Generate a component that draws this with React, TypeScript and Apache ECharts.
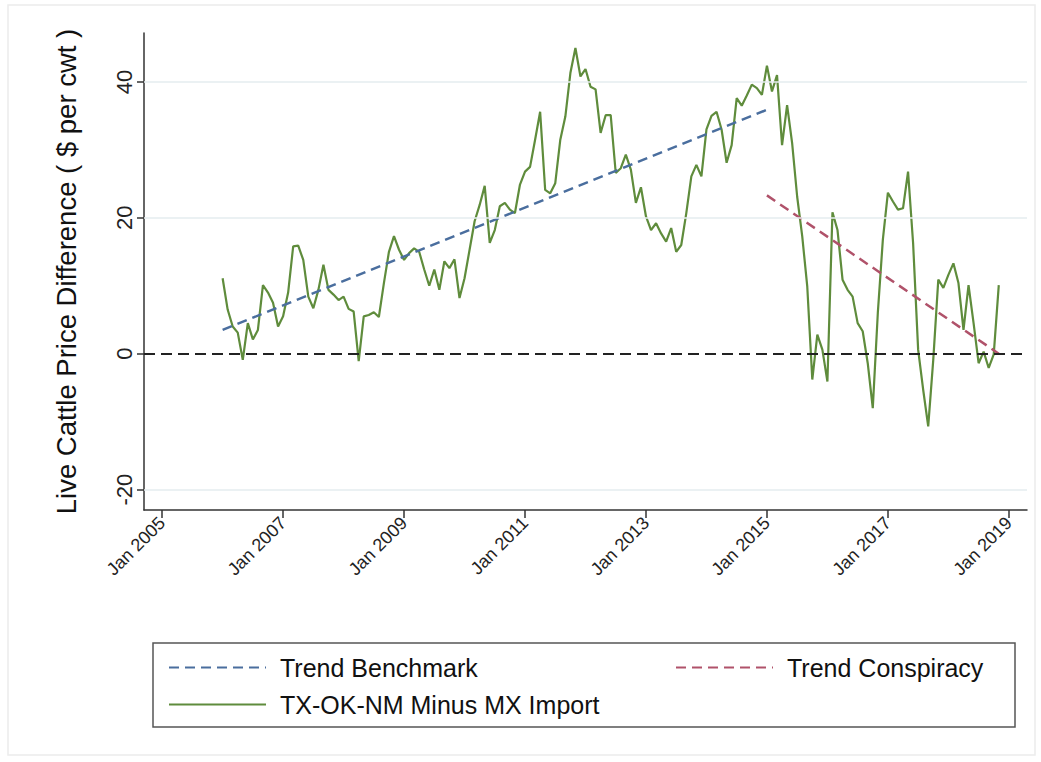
import React, { useEffect, useRef } from "react";
import * as echarts from "echarts";

// ---- data ----
const seriesStart = { year: 2006, month: 1 }; // first monthly observation
const spreadValues = [
  11.1, 6.5, 4.0, 3.1, -0.9, 4.5, 2.1, 3.5, 10.1, 9.0,
  7.5, 4.0, 5.5, 9.0, 15.8, 15.9, 13.8, 8.4, 6.7, 9.4,
  13.1, 9.4, 8.7, 7.9, 8.4, 6.6, 6.2, -1.1, 5.5, 5.7,
  6.1, 5.4, 10.4, 15.0, 17.3, 15.3, 13.8, 14.8, 15.5, 15.0,
  12.4, 10.0, 12.4, 9.4, 13.6, 12.6, 13.9, 8.2, 11.1, 15.3,
  19.5, 21.9, 24.7, 16.3, 18.2, 21.7, 22.2, 21.2, 20.7, 24.9,
  26.8, 27.5, 31.5, 35.6, 24.1, 23.6, 25.1, 31.5, 34.9, 41.3,
  45.0, 40.8, 41.9, 39.3, 38.9, 32.5, 35.1, 35.1, 26.6, 27.3,
  29.3, 27.1, 22.2, 24.5, 20.2, 18.2, 19.2, 17.7, 16.5, 18.5,
  15.0, 16.0, 20.7, 26.1, 27.8, 26.1, 33.0, 35.0, 35.6, 33.0,
  28.1, 30.7, 37.6, 36.5, 38.0, 39.6, 39.1, 38.1, 42.4, 38.6,
  41.0, 30.7, 36.6, 31.0, 23.1, 17.3, 9.9, -3.8, 2.8, 0.6,
  -4.1, 20.8, 18.2, 10.9, 9.4, 8.4, 4.5, 3.3, -1.4, -8.0,
  6.0, 16.8, 23.7, 22.4, 21.2, 21.4, 26.8, 16.3, 0.6, -5.3,
  -10.7, -0.9, 10.9, 9.7, 11.6, 13.3, 10.4, 3.5, 10.1, 4.5,
  -1.4, 0.3, -2.1, -0.1, 10.1,
];
const benchmarkDates = ["2006-01", "2015-01"];
const benchmarkValues = [3.5, 35.9];
const conspiracyDates = ["2015-01", "2018-11"];
const conspiracyValues = [23.3, 0.0];
const xTickYears = [2005, 2007, 2009, 2011, 2013, 2015, 2017, 2019];
const yTickValues = [-20, 0, 20, 40];
const gridValues = [-20, 20, 40];
const zeroLineValue = 0;

const BASE_YEAR = 2005;
const monthPos = (year: number, month: number) => (year - BASE_YEAR) * 12 + (month - 1);
const datePos = (s: string) => {
  const [y, m] = s.split("-").map(Number);
  return monthPos(y, m);
};

const FONT = "'Liberation Sans', Arial, Helvetica, sans-serif";

export default function App() {
  const ref = useRef<HTMLDivElement>(null);
  useEffect(() => {
    if (!ref.current) return;
    const chart = echarts.init(ref.current, null, { renderer: "svg" });
    const start = monthPos(seriesStart.year, seriesStart.month);
    const spreadData = spreadValues.map((v, i) => [start + i, v]);
    const benchData = benchmarkDates.map((d, i) => [datePos(d), benchmarkValues[i]]);
    const conspData = conspiracyDates.map((d, i) => [datePos(d), conspiracyValues[i]]);
    const xTicks = xTickYears.map((y) => monthPos(y, 1));

    const legendCommon = {
      itemWidth: 97,
      itemHeight: 12,
      itemStyle: { opacity: 0 },
      textStyle: { fontFamily: FONT, fontSize: 25, color: "#111", padding: [0, 0, 0, 9] },
      selectedMode: false,
    };

    chart.setOption({
      animation: false,
      backgroundColor: "#ffffff",
      textStyle: { fontFamily: FONT },
      grid: { left: 144, right: 14, top: 33, bottom: 252, containLabel: false },
      xAxis: {
        type: "value",
        min: -3.6,
        max: 171.6,
        axisLine: { show: true, onZero: false, lineStyle: { color: "#333", width: 1.5 } },
        axisTick: { show: true, customValues: xTicks, length: 8, lineStyle: { color: "#333", width: 1.5 } },
        axisLabel: {
          customValues: xTicks,
          rotate: 45,
          margin: 10,
          fontSize: 18,
          color: "#222",
          fontFamily: FONT,
          formatter: (v: number) => "Jan " + (BASE_YEAR + Math.round(v / 12)),
        },
        splitLine: { show: false },
      },
      yAxis: {
        type: "value",
        min: -23,
        max: 47.2,
        name: "Live Cattle Price Difference ( $ per cwt )",
        nameLocation: "middle",
        nameGap: 64,
        nameTextStyle: { fontSize: 27.5, color: "#111", fontFamily: FONT },
        axisLine: { show: true, onZero: false, lineStyle: { color: "#333", width: 1.5 } },
        axisTick: { show: true, customValues: yTickValues, length: 7, lineStyle: { color: "#333", width: 1.5 } },
        axisLabel: {
          customValues: yTickValues,
          rotate: 90,
          margin: 9,
          fontSize: 22,
          color: "#222",
          fontFamily: FONT,
        },
        splitLine: { show: false },
      },
      legend: [
        { ...legendCommon, data: ["Trend Benchmark"], left: 163, top: 650, orient: "horizontal" },
        { ...legendCommon, data: ["Trend Conspiracy"], left: 670, top: 650, orient: "horizontal" },
        { ...legendCommon, data: ["TX-OK-NM Minus MX Import"], left: 163, top: 687, orient: "horizontal" },
      ],
      graphic: [
        {
          type: "rect",
          shape: { x: 8, y: 5, width: 1027, height: 750 },
          style: { fill: "none", stroke: "#ececec", lineWidth: 1.5 },
          silent: true,
        },
        {
          type: "rect",
          shape: { x: 153, y: 643, width: 862, height: 84 },
          style: { fill: "none", stroke: "#555", lineWidth: 1.5 },
          silent: true,
        },
      ],
      series: [
        {
          name: "grid",
          type: "line",
          data: [],
          z: 1,
          silent: true,
          markLine: {
            silent: true,
            symbol: "none",
            label: { show: false },
            lineStyle: { color: "#e4ecef", width: 1.5, type: "solid" },
            data: gridValues.map((v) => ({ yAxis: v })),
          },
        },
        {
          name: "zero",
          type: "line",
          data: [],
          z: 2,
          silent: true,
          markLine: {
            silent: true,
            symbol: "none",
            label: { show: false },
            lineStyle: { color: "#222", width: 2.2, type: [11, 6] },
            data: [{ yAxis: zeroLineValue }],
          },
        },
        {
          name: "TX-OK-NM Minus MX Import",
          type: "line",
          data: spreadData,
          showSymbol: false,
          symbol: "none",
          z: 3,
          lineStyle: { color: "#5f8c3c", width: 2.2 },
          itemStyle: { color: "#5f8c3c" },
        },
        {
          name: "Trend Benchmark",
          type: "line",
          data: benchData,
          showSymbol: false,
          symbol: "none",
          z: 4,
          lineStyle: { color: "#4a6e9e", width: 2.5, type: [10, 6] },
          itemStyle: { color: "#4a6e9e" },
        },
        {
          name: "Trend Conspiracy",
          type: "line",
          data: conspData,
          showSymbol: false,
          symbol: "none",
          z: 4,
          lineStyle: { color: "#b0526a", width: 2.5, type: [10, 6] },
          itemStyle: { color: "#b0526a" },
        },
      ],
    });
    return () => chart.dispose();
  }, []);
  return (
    <div
      ref={ref}
      style={{ position: "fixed", left: 0, top: 0, width: 1041, height: 762, background: "#fff" }}
    />
  );
}
